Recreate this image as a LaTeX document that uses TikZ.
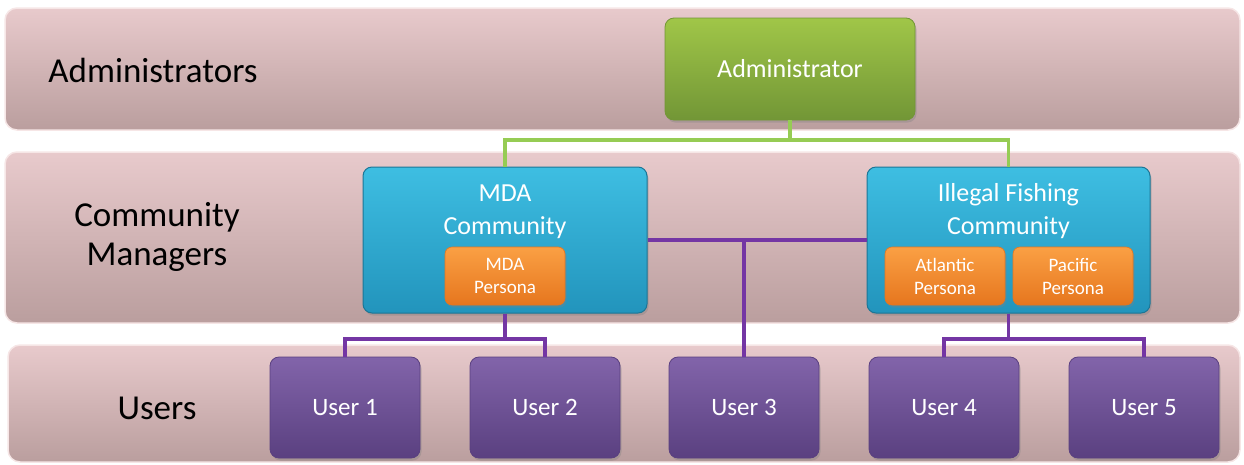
\documentclass[tikz,border=0pt]{standalone}
\usepackage{fontspec}
\setmainfont{Carlito}
\usetikzlibrary{shadows}

\definecolor{bandtop}{RGB}{232,202,204}
\definecolor{bandbot}{RGB}{186,158,158}
\definecolor{bandedge}{RGB}{246,230,230}
\definecolor{grntop}{RGB}{160,198,72}
\definecolor{grnbot}{RGB}{114,150,54}
\definecolor{cyntop}{RGB}{62,190,226}
\definecolor{cynbot}{RGB}{34,148,188}
\definecolor{cynedge}{RGB}{28,118,150}
\definecolor{orgtop}{RGB}{250,160,68}
\definecolor{orgbot}{RGB}{230,118,30}
\definecolor{purtop}{RGB}{130,100,170}
\definecolor{purbot}{RGB}{90,64,128}
\definecolor{purwire}{RGB}{116,54,164}
\definecolor{grnwire}{RGB}{150,204,84}

\tikzset{
  band/.style={draw=bandedge, line width=1.5pt, rounded corners=12pt,
    top color=bandtop, bottom color=bandbot, inner sep=0pt},
  tier/.style={text=black, align=center, font=\fontsize{35}{39}\selectfont},
  box/.style={rounded corners=9pt, inner sep=0pt, text=white, align=center,
    drop shadow={shadow xshift=1.5pt, shadow yshift=-2.5pt, opacity=0.35}},
  adminbox/.style={box, top color=grntop, bottom color=grnbot, draw=grnbot,
    line width=0.8pt, font=\fontsize{26}{31}\selectfont},
  commbox/.style={box, top color=cyntop, bottom color=cynbot, draw=cynedge,
    line width=1pt},
  commtitle/.style={text=white, align=center, inner sep=0pt,
    font=\fontsize{26}{33}\selectfont},
  personabox/.style={box, rounded corners=7pt, top color=orgtop, bottom color=orgbot,
    draw=orgbot, line width=0.6pt, font=\fontsize{19}{23}\selectfont,
    minimum width=120pt, minimum height=58pt},
  userbox/.style={box, top color=purtop, bottom color=purbot, draw=purbot,
    line width=0.8pt, font=\fontsize{25}{30}\selectfont,
    minimum width=150pt, minimum height=101pt},
  greenlink/.style={draw=grnwire, line width=3.2pt},
  purplelink/.style={draw=purwire, line width=3.2pt}
}

\begin{document}
\begin{tikzpicture}[x=1pt,y=-1pt]
\useasboundingbox (0,0) rectangle (1244,464);

% tier bands
\node[band, minimum width=1235pt, minimum height=122pt] (bandA) at (622.5,69) {};
\node[band, minimum width=1235pt, minimum height=171pt] (bandC) at (622.5,237.5) {};
\node[band, minimum width=1232pt, minimum height=117pt] (bandU) at (624,403.5) {};

% tier labels
\node[tier] (labA) at (153,70) {Administrators};
\node[tier] (labC) at (157,237) {Community\\Managers};
\node[tier] (labU) at (157,408) {Users};

% administrator
\node[adminbox, minimum width=250pt, minimum height=102pt] (admin) at (790,69) {Administrator};

% communities
\node[commbox, minimum width=284pt, minimum height=146pt] (mda) at (505,240) {};
\node[commtitle] (mdat) at (505,211.5) {MDA\\Community};
\node[personabox] (mdap) at (505,276) {MDA\\Persona};

\node[commbox, minimum width=283pt, minimum height=146pt] (ifc) at (1008.5,240) {};
\node[commtitle] (ifct) at (1008.5,211.5) {Illegal Fishing\\Community};
\node[personabox] (atl) at (945,276) {Atlantic\\Persona};
\node[personabox] (pac) at (1073,276) {Pacific\\Persona};

% users
\node[userbox] (u1) at (345,407.5) {User 1};
\node[userbox] (u2) at (545,407.5) {User 2};
\node[userbox] (u3) at (744,407.5) {User 3};
\node[userbox] (u4) at (944,407.5) {User 4};
\node[userbox] (u5) at (1144,407.5) {User 5};

% junction points
\coordinate (gj) at (790,140);
\coordinate (mj) at (505,339);
\coordinate (ij) at (1008.5,339);
\coordinate (cj) at (744,240);

% administrator to communities
\draw[greenlink] (admin.south) -- (gj);
\draw[greenlink] (gj) -| (mda.north);
\draw[greenlink] (gj) -| (ifc.north);

% link between communities and User 3
\draw[purplelink] (mda.east) -- (ifc.west);
\draw[purplelink] (cj) -- (u3.north);

% communities to their users
\draw[purplelink] (mda.south) -- (mj);
\draw[purplelink] (mj) -| (u1.north);
\draw[purplelink] (mj) -| (u2.north);
\draw[purplelink] (ifc.south) -- (ij);
\draw[purplelink] (ij) -| (u4.north);
\draw[purplelink] (ij) -| (u5.north);
\end{tikzpicture}
\end{document}
